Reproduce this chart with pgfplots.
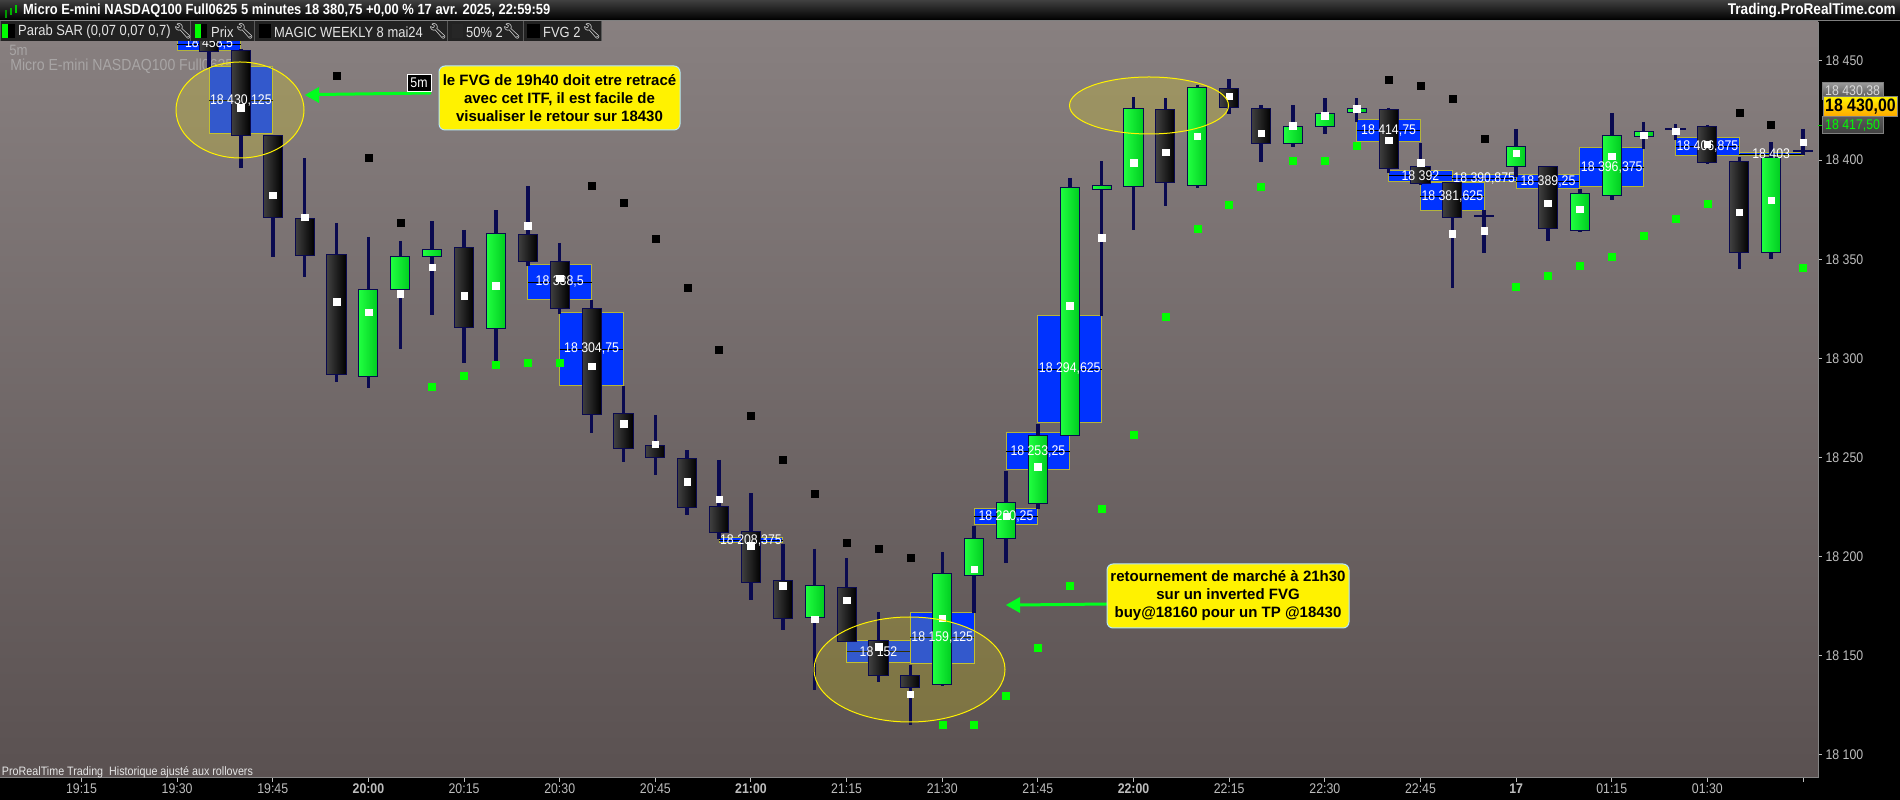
\documentclass[border=0pt]{standalone}
\usepackage{fontspec}
\setmainfont[FakeStretch=0.88]{Liberation Sans}
\newfontfamily\callf{Liberation Sans}
\newfontfamily\emo{Noto Emoji}
\usepackage{pgfplots}
\pgfplotsset{compat=1.18}
\usetikzlibrary{arrows.meta}

\definecolor{panelTop}{HTML}{888080}
\definecolor{panelBot}{HTML}{5A5151}
\definecolor{wickc}{HTML}{0A0A50}
\definecolor{gl}{HTML}{20FF40}
\definecolor{gr}{HTML}{00CC20}
\definecolor{kl}{HTML}{404040}
\definecolor{kr}{HTML}{000000}
\definecolor{fvgblue}{HTML}{0033FF}
\definecolor{fvgedge}{HTML}{B4B43C}
\definecolor{sargreen}{HTML}{00FF00}
\definecolor{arrowg}{HTML}{00FF1E}
\definecolor{tickc}{HTML}{BDBDBD}
\definecolor{barc}{HTML}{222222}

% one candle: index, colour, high, body top, body bottom, low
\newcommand{\candle}[6]{%
  \addplot[wickc, line width=3.5pt] coordinates {(#1,#3)(#1,#6)};
  \pgfmathsetmacro\xa{#1-0.3}\pgfmathsetmacro\xb{#1+0.3}
  \addplot[draw=wickc, line width=1pt, left color=#2l, right color=#2r] coordinates {(\xa,#4)(\xb,#4)(\xb,#5)(\xa,#5)} --cycle;
}
\newcommand{\cb}[5]{\candle{#1}{k}{#2}{#3}{#4}{#5}}
\newcommand{\cg}[5]{\candle{#1}{g}{#2}{#3}{#4}{#5}}
% FVG zone: left, right, top, bottom, mid
\newcommand{\fvg}[5]{%
  \addplot[draw=fvgedge, line width=1pt, fill=fvgblue] coordinates {(#1,#3)(#2,#3)(#2,#4)(#1,#4)} --cycle;
  \addplot[black, line width=0.8pt] coordinates {(#1,#5)(#2,#5)};
}
\newcommand{\fvglabel}[3]{\node[white, font=\fontsize{14}{16}\selectfont, inner sep=0pt] at (axis cs:#1,#2) {#3};}
\newcommand{\wrench}[1]{\node[white, inner sep=0pt, font=\emo\fontsize{15}{15}\selectfont] at (#1,31) {🔧};}
\newcommand{\swatch}[3]{\fill[#3] (#1,24) rectangle (#2,38);}

\begin{document}
\begin{tikzpicture}
\clip (0pt,0pt) rectangle (1900pt,800pt);
\fill[black] (0pt,0pt) rectangle (1900pt,800pt);
\begin{axis}[
    at={(0pt,22pt)}, anchor=south west,
    scale only axis, width=1818pt, height=756pt,
    xmin=-2.556, xmax=54.47, ymin=18088.4, ymax=18469.6,
    axis x line*=bottom, axis y line*=right,
    axis line style={-, draw=tickc!70!black, line width=1pt},
    axis background/.style={top color=panelTop, bottom color=panelBot},
    tick align=outside, major tick length=4pt,
    tick style={draw=tickc, line width=1pt},
    xtick={0,3,...,54},
    xticklabels={19:15,19:30,19:45,\textbf{20:00},20:15,20:30,20:45,\textbf{21:00},21:15,21:30,21:45,\textbf{22:00},22:15,22:30,22:45,\textbf{17},01:15,01:30,},
    ytick={18100,18150,18200,18250,18300,18350,18400,18450},
    yticklabels={18 100,18 150,18 200,18 250,18 300,18 350,18 400,18 450},
    tick label style={text=tickc, font=\fontsize{14}{16}\selectfont},
    xticklabel style={yshift=2pt},
]
\node[anchor=west, text=tickc!60!panelTop, inner sep=0pt, font=\fontsize{15}{16}\selectfont] at (axis cs:-2.27,18455.5) {5m};
\node[anchor=west, text=tickc!60!panelTop, inner sep=0pt, font=\fontsize{16}{18}\selectfont] at (axis cs:-2.24,18447.4) {Micro E-mini NASDAQ100 Full0625};
\node[anchor=west, text=white!90!black, inner sep=0pt, font=\fontsize{12.2}{13}\selectfont] at (axis cs:-2.5,18091.4) {ProRealTime Trading\ \ Historique ajusté aux rollovers};

% FVG zones
\fvg{3}{5}{18462.5}{18455}{18458.5}
\fvg{4}{6}{18447}{18413.25}{18430.125}
\fvg{14}{16}{18347.25}{18329.75}{18338.5}
\fvg{15}{17}{18323.25}{18286.25}{18304.75}
\fvg{20}{22}{18209.75}{18207}{18208.375}
\fvg{24}{26}{18157.5}{18146.5}{18152}
\fvg{26}{28}{18172}{18146.25}{18159.125}
\fvg{28}{30}{18224.5}{18216}{18220.25}
\fvg{29}{31}{18262.5}{18244}{18253.25}
\fvg{30}{32}{18321.75}{18267.5}{18294.625}
\fvg{40}{42}{18420.25}{18409.25}{18414.75}
\fvg{41}{43}{18394.75}{18389.25}{18392}
\fvg{43}{45}{18392.5}{18389.25}{18390.875}
\fvg{45}{47}{18392.75}{18385.75}{18389.25}
\fvg{42}{44}{18388.75}{18374.5}{18381.625}
\fvg{47}{49}{18406.25}{18386.5}{18396.375}
\fvg{50}{52}{18411.25}{18402.5}{18406.875}
\fvg{52}{54}{18403.75}{18402.25}{18403}

% highlight ellipses sit over the zones and under the candles
\fill[yellow, opacity=0.2] (axis cs:4.972,18425.2) ellipse [x radius=64pt, y radius=48pt];
\fill[yellow, opacity=0.2] (axis cs:33.485,18427.5) ellipse [x radius=79.5pt, y radius=28.5pt];
\fill[yellow, opacity=0.2] (axis cs:25.97,18143.1) ellipse [x radius=95.5pt, y radius=52.5pt];

% candles: i, high, top, bottom, low
\cb{4}{18465.5}{18461.5}{18454.5}{18446.5}
\cb{5}{18456}{18455}{18412.5}{18396}
\cb{6}{18412.5}{18412.5}{18371.25}{18351}
\cb{7}{18401}{18370.75}{18352}{18341}
\cb{8}{18368.25}{18352.5}{18292}{18288}
\cg{9}{18361.25}{18334.5}{18291}{18285}
\cg{10}{18359.25}{18351.5}{18334.5}{18304.75}
\cg{11}{18369.25}{18355}{18351.5}{18321.75}
\cb{12}{18364.75}{18356}{18315.75}{18297.75}
\cg{13}{18374.75}{18362.75}{18315.25}{18297.75}
\cb{14}{18386.75}{18362.25}{18349}{18346.5}
\cb{15}{18358.25}{18349}{18325}{18322.25}
\cb{16}{18329.5}{18325}{18271.5}{18262.25}
\cb{17}{18286}{18272}{18254.75}{18247.75}
\cb{18}{18271.5}{18256.25}{18250.25}{18241.25}
\cb{19}{18253.75}{18249.75}{18225}{18221}
\cb{20}{18248.75}{18225.5}{18212}{18209}
\cb{21}{18232}{18212.5}{18186.75}{18178}
\cb{22}{18206.5}{18187.75}{18169}{18163}
\cg{23}{18204}{18185.25}{18169.5}{18132.75}
\cb{24}{18199.25}{18184.25}{18157}{18157}
\cb{25}{18172}{18157.5}{18140}{18137}
\cb{26}{18145.5}{18140.25}{18134.25}{18115}
\cg{27}{18202.25}{18191.75}{18135.75}{18134.75}
\cg{28}{18215.5}{18209}{18190.75}{18171.5}
\cg{29}{18243}{18227.5}{18209}{18196.75}
\cg{30}{18267}{18261.25}{18227}{18224}
\cg{31}{18391}{18386}{18261.25}{18261.25}
\cg{32}{18399.5}{18387}{18385.25}{18321.25}
\cg{33}{18431.75}{18425.75}{18386.5}{18364.75}
\cb{34}{18431.25}{18425.25}{18388.5}{18376.75}
\cg{35}{18437.75}{18436.75}{18387}{18386}
\cb{36}{18440.75}{18436.25}{18426.25}{18423.25}
\cb{37}{18427.75}{18425.75}{18408.5}{18399}
\cg{38}{18427.75}{18416.75}{18408.5}{18406.5}
\cg{39}{18431.25}{18423.25}{18416.75}{18413}
\cg{40}{18431.25}{18425.75}{18423.75}{18419}
\cb{41}{18426.25}{18425.25}{18395.5}{18393.5}
\cb{42}{18408.5}{18396.5}{18388}{18387.5}
\cb{43}{18388.5}{18388.5}{18371.25}{18335.5}
\cb{44}{18374.75}{18372}{18371.5}{18353}
\cg{45}{18415.75}{18407}{18396.5}{18391.5}
\cb{46}{18397}{18396.5}{18365.25}{18359}
\cg{47}{18385.5}{18383.25}{18364.25}{18363.75}
\cg{48}{18423.75}{18412.5}{18382.25}{18379.75}
\cg{49}{18419.25}{18414.5}{18412}{18405.5}
\cb{50}{18418}{18416}{18415.5}{18410}
\cb{51}{18417.75}{18416.75}{18399}{18398}
\cb{52}{18401.5}{18399.5}{18353.5}{18345}
\cg{53}{18409}{18401.5}{18353.5}{18350}
\cb{54}{18415.75}{18404.75}{18404.25}{18402.5}

% zone labels
\fvglabel{4}{18458.5}{18 458,5}
\fvglabel{5}{18430.125}{18 430,125}
\fvglabel{15}{18338.5}{18 338,5}
\fvglabel{16}{18304.75}{18 304,75}
\fvglabel{21}{18208.375}{18 208,375}
\fvglabel{25}{18152}{18 152}
\fvglabel{27}{18159.125}{18 159,125}
\fvglabel{29}{18220.25}{18 220,25}
\fvglabel{30}{18253.25}{18 253,25}
\fvglabel{31}{18294.625}{18 294,625}
\fvglabel{41}{18414.75}{18 414,75}
\fvglabel{42}{18392}{18 392}
\fvglabel{44}{18390.875}{18 390,875}
\fvglabel{46}{18389.25}{18 389,25}
\fvglabel{43}{18381.625}{18 381,625}
\fvglabel{48}{18396.375}{18 396,375}
\fvglabel{51}{18406.875}{18 406,875}
\fvglabel{53}{18403}{18 403}

% white markers on the candles
\addplot[only marks, mark=square*, mark size=3.3pt, color=white] coordinates {
(5,18426.25)(6,18382.25)(7,18371.25)(8,18328.5)(9,18323.25)(10,18332.5)(11,18346)(12,18331.5)(13,18336.5)
(14,18366.75)(15,18340.5)(16,18296)(17,18267)(18,18256.75)(19,18237.75)(20,18229)(21,18205.5)(22,18185.25)
(23,18168.5)(24,18178)(25,18154.5)(26,18130.75)(27,18169)(28,18193.75)(29,18220.5)(30,18245.25)(31,18326.5)
(32,18360.75)(33,18398.5)(34,18404)(35,18412)(36,18432.25)(37,18413.5)(38,18417.25)(39,18422.25)(40,18425.75)
(41,18410)(42,18398.5)(43,18362.75)(44,18364.25)(45,18403.5)(46,18378.25)(47,18375.25)(48,18402)(49,18412.5)
(50,18414.5)(51,18408)(52,18373.75)(53,18379.75)(54,18409)};

% Parabolic SAR
\addplot[only marks, mark=square*, mark size=3.5pt, color=black] coordinates {
(8,18442.5)(9,18401)(10,18368.25)(16,18387)(17,18378.25)(18,18360.25)(19,18335.5)(20,18304.25)(21,18271)
(22,18248.75)(23,18232)(24,18207)(25,18204)(26,18199.25)(41,18440.75)(42,18437.25)(43,18430.75)(44,18410.5)
(52,18423.75)(53,18418)};
\addplot[only marks, mark=square*, mark size=3.5pt, color=sargreen] coordinates {
(11,18285.5)(12,18291)(13,18296.75)(14,18298)(15,18298)(27,18115.5)(28,18115.5)(29,18129.75)(30,18154)
(31,18185.25)(32,18224)(33,18261.75)(34,18321.25)(35,18365.25)(36,18377.25)(37,18386.5)(38,18399.5)(39,18399.5)
(40,18407)(45,18336)(46,18341.5)(47,18346.5)(48,18351.5)(49,18361.75)(50,18370.25)(51,18377.75)(54,18345.5)};
\end{axis}

% annotations and window chrome, in reference pixels from the top left
\begin{scope}[shift={(0pt,800pt)}, x=1pt, y=-1pt]
  \foreach \cx/\cy/\rx/\ry in {240/110/64/48, 1149/105.5/79.5/28.5, 909.5/669.5/95.5/52.5}
    \draw[yellow, line width=1pt] (\cx,\cy) ellipse [x radius=\rx, y radius=\ry];

  \draw[arrowg, line width=3pt] (431,93) -- (318,94.5);
  \fill[arrowg] (305,95) -- (319,87) -- (319,103) -- cycle;
  \draw[arrowg, line width=3pt] (1107,604) -- (1019,605);
  \fill[arrowg] (1006,605) -- (1020,597) -- (1020,613) -- cycle;

  \draw[white, fill=black, line width=1pt] (407.5,74.5) rectangle (431,92);
  \node[white, inner sep=0pt, font=\fontsize{14}{16}\selectfont] at (419,83) {5m};

  \draw[draw=cyan!30!white, fill=yellow, line width=1pt, rounded corners=6pt] (439,66) rectangle (680,130);
  \node[align=center, font=\callf\bfseries\fontsize{15}{18}\selectfont, inner sep=0pt, text=black] at (559.5,98) {le FVG de 19h40 doit etre retracé\\avec cet ITF, il est facile de\\visualiser le retour sur 18430};
  \draw[draw=cyan!30!white, fill=yellow, line width=1pt, rounded corners=6pt] (1107,564) rectangle (1349,628);
  \node[align=center, font=\callf\bfseries\fontsize{15}{18}\selectfont, inner sep=0pt, text=black] at (1228,596) {retournement de marché à 21h30\\sur un inverted FVG\\buy@18160 pour un TP @18430};

  % price tags
  \draw[green!80!black, line width=1pt] (1818,126) -- (1822,126);
  \draw[gray, top color=gray!80!white, bottom color=gray!60!black, line width=1pt] (1822,83) rectangle (1883,100);
  \node[text=white!85!black, anchor=west, inner sep=0pt, font=\fontsize{14}{16}\selectfont] at (1825,92) {18 430,38};
  \draw[gray, top color=gray!70!black, bottom color=gray!50!black, line width=1pt] (1822,117) rectangle (1883,134);
  \node[text=sargreen, anchor=west, inner sep=0pt, font=\fontsize{14}{16}\selectfont] at (1825,126) {18 417,50};
  \draw[gray, top color=yellow!90!orange, bottom color=orange!70!yellow, line width=1pt] (1823,97) rectangle (1897,117);
  \node[text=black, anchor=west, inner sep=0pt, font=\bfseries\fontsize{18}{20}\selectfont] at (1825,107) {18 430,00};

  % title bar
  \shade[top color=black!75, bottom color=black] (0,0) rectangle (1900,20);
  \draw[gray, line width=1pt] (0,20.5) -- (1900,20.5);
  \fill[green!60!black] (5,10) rectangle (7,18);
  \fill[green!70!black] (10,8) rectangle (12,15);
  \fill[green!80!black] (15,5) rectangle (17,13);
  \node[white, anchor=west, inner sep=0pt, font=\bfseries\fontsize{14.7}{16}\selectfont] at (23,11) {Micro E-mini NASDAQ100 Full0625 5 minutes 18 380,75 +0,00 \% 17 avr. 2025, 22:59:59};
  \node[white, anchor=east, inner sep=0pt, font=\bfseries\fontsize{15.5}{16}\selectfont] at (1896,11) {Trading.ProRealTime.com};

  % indicator bar
  \fill[barc] (0,21) rectangle (601,41);
  \foreach \sx in {0.5,190,254,447,523,601} \draw[gray!70!black, line width=1pt] (\sx,21) -- (\sx,41);
  \swatch{2}{8}{green}\fill[black] (8,24) rectangle (15,38);
  \swatch{195}{201}{green}\fill[black] (201,24) rectangle (207,38);
  \swatch{259}{271}{black}
  \swatch{452}{463}{black!85}
  \swatch{527}{540}{black}
  \node[white!90!black, anchor=west, inner sep=0pt, font=\fontsize{14.7}{16}\selectfont] at (18,32) {Parab SAR (0,07 0,07 0,7)};
  \node[white!90!black, anchor=west, inner sep=0pt, font=\fontsize{14.7}{16}\selectfont] at (211,32) {Prix};
  \node[white!90!black, anchor=west, inner sep=0pt, font=\fontsize{14.7}{16}\selectfont] at (274,32) {MAGIC WEEKLY 8 mai24};
  \node[white!90!black, anchor=west, inner sep=0pt, font=\fontsize{14.7}{16}\selectfont] at (466,32) {50\% 2};
  \node[white!90!black, anchor=west, inner sep=0pt, font=\fontsize{14.7}{16}\selectfont] at (543,32) {FVG 2};
  \wrench{183}\wrench{245}\wrench{438}\wrench{512}\wrench{592}
\end{scope}
\end{tikzpicture}
\end{document}
